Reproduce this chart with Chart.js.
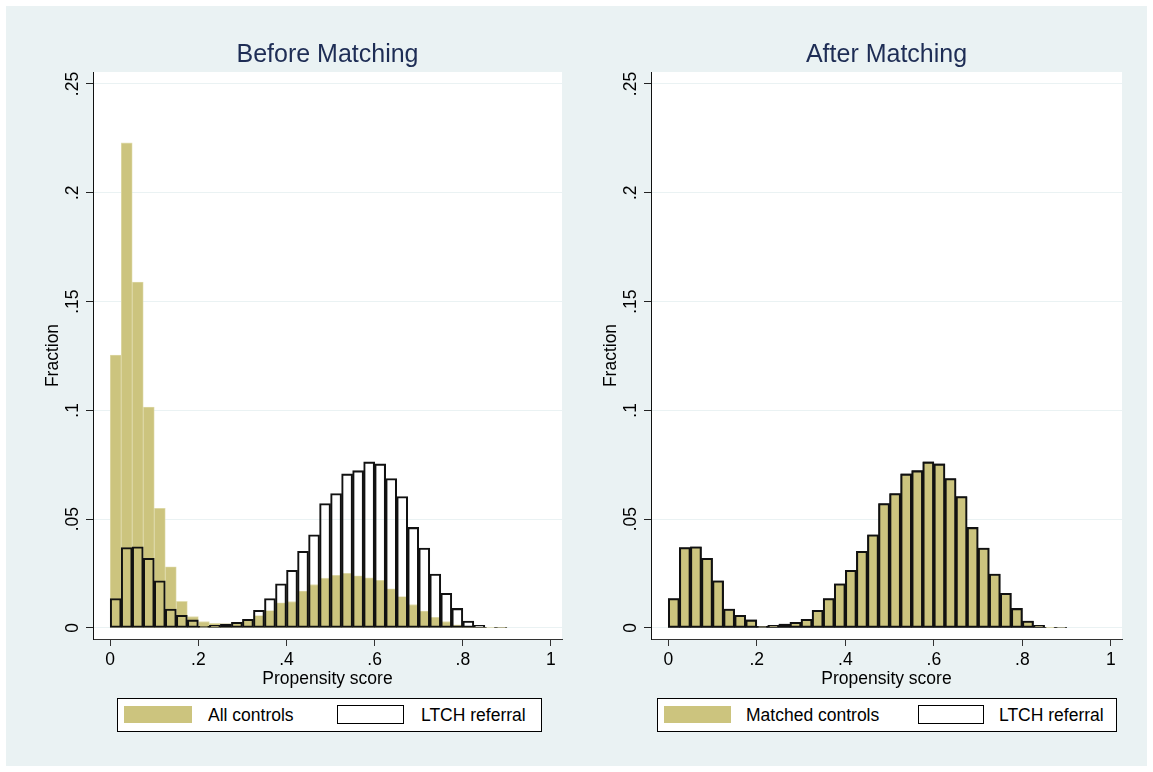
<!DOCTYPE html>
<html>
<head>
<meta charset="utf-8">
<script src="https://cdn.jsdelivr.net/npm/chart.js@4.4.1/dist/chart.umd.min.js"></script>
<style>
  html, body { margin: 0; padding: 0; background: #fff; }
  body { width: 1153px; height: 772px; position: relative; overflow: hidden; font-family: "Liberation Sans", Arial, sans-serif; }
  #bg { position: absolute; left: 6px; top: 6px; width: 1141px; height: 760px; background: #EAF2F3; }
  canvas { position: absolute; left: 0; top: 0; }
  .legend { position: absolute; top: 698px; height: 32px; border: 1px solid #000; background: #fff; }
  .legend .sw { position: absolute; top: 7px; height: 17px; }
  .legend .fill { background: #CCC47E; }
  .legend .line { border: 1px solid #000; background: #fff; top: 6px; height: 17px; }
  .legend .txt { position: absolute; top: 6px; font-size: 17.5px; line-height: 21px; color: #000; white-space: nowrap; }
</style>
</head>
<body>
<div id="bg"></div>
<canvas id="beforeChart" width="1153" height="772"></canvas>
<canvas id="afterChart" width="1153" height="772"></canvas>

<div class="legend" style="left:117px; width:423px;">
  <div class="sw fill" style="left:6px; width:68px;"></div>
  <div class="txt" style="left:90px;">All controls</div>
  <div class="sw line" style="left:219px; width:65px;"></div>
  <div class="txt" style="left:303px;">LTCH referral</div>
</div>
<div class="legend" style="left:657px; width:458px;">
  <div class="sw fill" style="left:6px; width:67px;"></div>
  <div class="txt" style="left:88px;">Matched controls</div>
  <div class="sw line" style="left:260px; width:64px;"></div>
  <div class="txt" style="left:341px;">LTCH referral</div>
</div>

<script>
// histogram bins (start of each bin, width .025)
var binStart = [0, 0.025, 0.05, 0.075, 0.1, 0.125, 0.15, 0.175, 0.2, 0.225, 0.25, 0.275,
    0.3, 0.325, 0.35, 0.375, 0.4, 0.425, 0.45, 0.475, 0.5, 0.525, 0.55, 0.575,
    0.6, 0.625, 0.65, 0.675, 0.7, 0.725, 0.75, 0.775, 0.8, 0.825, 0.85, 0.875];
var binWidth = 0.025;

var allControls = [0.1254, 0.2229, 0.159, 0.1015, 0.055, 0.0281, 0.0122, 0.0052, 0.0029, 0.0021, 0.002, 0.0025,
    0.0035, 0.0057, 0.008, 0.0116, 0.0121, 0.017, 0.0199, 0.0229, 0.0242, 0.0251, 0.024, 0.0231,
    0.0219, 0.018, 0.0144, 0.0107, 0.0078, 0.0049, 0.0029, 0.0015, 0.0006, 0.0003, 0.0002, 0.0001];

var ltchReferral = [0.0135, 0.037, 0.0373, 0.032, 0.0217, 0.0087, 0.0058, 0.0037, 0.0008, 0.0012, 0.0018, 0.0026,
    0.004, 0.0081, 0.0135, 0.0203, 0.0265, 0.0352, 0.0428, 0.0572, 0.0618, 0.0708, 0.0723, 0.0763,
    0.0754, 0.0687, 0.0604, 0.0462, 0.0367, 0.0248, 0.0159, 0.009, 0.0032, 0.0012, 0.0003, 0.0002];

var matchedControls = [0.0135, 0.037, 0.0373, 0.032, 0.0217, 0.0087, 0.0058, 0.0037, 0.0008, 0.0012, 0.0018, 0.0026,
    0.004, 0.0081, 0.0135, 0.0203, 0.0265, 0.0352, 0.0428, 0.0572, 0.0618, 0.0708, 0.0723, 0.0763,
    0.0754, 0.0687, 0.0604, 0.0462, 0.0367, 0.0248, 0.0159, 0.009, 0.0032, 0.0012, 0.0003, 0.0002];

var xTicks = [0, 0.2, 0.4, 0.6, 0.8, 1];
var xTickLabels = ['0', '.2', '.4', '.6', '.8', '1'];
var yTicks = [0, 0.05, 0.1, 0.15, 0.2, 0.25];
var yTickLabels = ['0', '.05', '.1', '.15', '.2', '.25'];

var FONT = '"Liberation Sans", Arial, sans-serif';
var khaki = '#CCC47E';

function toPoints(vals) {
    return vals.map(function (v, i) { return { x: binStart[i] + binWidth / 2, y: v }; });
}

// white plot region, titles and rotated y labels, Stata style
var panelText = {
    id: 'panelText',
    beforeDraw: function (chart) {
        var a = chart.chartArea, ctx = chart.ctx;
        ctx.save();
        ctx.fillStyle = '#fff';
        ctx.fillRect(a.left, a.top, a.right - a.left, a.bottom - a.top);
        ctx.restore();
    },
    afterDraw: function (chart, args, opts) {
        var a = chart.chartArea, ctx = chart.ctx;
        var cx = (a.left + a.right) / 2;
        var ys = chart.scales.y;
        ctx.save();
        ctx.textAlign = 'center';
        ctx.textBaseline = 'middle';
        ctx.fillStyle = '#1E2D55';
        ctx.font = '25px ' + FONT;
        ctx.fillText(opts.title, cx, 55);

        ctx.fillStyle = '#000';
        ctx.font = '17.5px ' + FONT;
        ctx.fillText('Propensity score', cx, 679);

        yTicks.forEach(function (v, i) {
            ctx.save();
            ctx.translate(a.left - 20, ys.getPixelForValue(v));
            ctx.rotate(-Math.PI / 2);
            ctx.fillText(yTickLabels[i], 0, 0);
            ctx.restore();
        });
        ctx.translate(a.left - 40, (a.top + a.bottom) / 2);
        ctx.rotate(-Math.PI / 2);
        ctx.fillText('Fraction', 0, 0);
        ctx.restore();
    }
};

function makeOptions(title, padLeft, padRight) {
    return {
        responsive: false,
        animation: false,
        devicePixelRatio: 1,
        layout: { padding: { left: padLeft, right: padRight, top: 72, bottom: 93 } },
        plugins: {
            legend: { display: false },
            tooltip: { enabled: false },
            panelText: { title: title }
        },
        datasets: { bar: { grouped: false, barPercentage: 1, categoryPercentage: 1, borderSkipped: false } },
        scales: {
            x: {
                type: 'linear',
                min: -0.039,
                max: 1.025,
                offset: false,
                afterBuildTicks: function (scale) {
                    scale.ticks = xTicks.map(function (v) { return { value: v }; });
                },
                afterFit: function (scale) { scale.height = 40; },
                ticks: {
                    padding: 4,
                    color: '#000',
                    font: { family: FONT, size: 17.5 },
                    callback: function (v) { return xTickLabels[xTicks.indexOf(v)]; }
                },
                grid: { offset: false, drawOnChartArea: false, tickLength: 7, tickColor: '#333', tickWidth: 1 },
                border: { color: '#333', width: 1 }
            },
            y: {
                min: -0.00506,
                max: 0.2555,
                afterBuildTicks: function (scale) {
                    scale.ticks = yTicks.map(function (v) { return { value: v }; });
                },
                afterFit: function (scale) { scale.width = 8; },
                ticks: { display: false },
                grid: { color: '#EAF2F3', lineWidth: 1, tickLength: 7, tickColor: '#222' },
                border: { color: '#111', width: 1 }
            }
        }
    };
}

new Chart(document.getElementById('beforeChart').getContext('2d'), {
    type: 'bar',
    data: {
        datasets: [{
            label: 'LTCH referral',
            data: toPoints(ltchReferral),
            backgroundColor: 'rgba(0,0,0,0)',
            borderColor: '#111',
            borderWidth: 1.4,
            order: 0
        }, {
            label: 'All controls',
            data: toPoints(allControls),
            backgroundColor: khaki,
            borderColor: '#E2DEB2',
            borderWidth: 0.8,
            order: 1
        }]
    },
    options: makeOptions('Before Matching', 85, 591),
    plugins: [panelText]
});

new Chart(document.getElementById('afterChart').getContext('2d'), {
    type: 'bar',
    data: {
        datasets: [{
            label: 'LTCH referral',
            data: toPoints(ltchReferral),
            backgroundColor: 'rgba(0,0,0,0)',
            borderColor: '#111',
            borderWidth: 1.4,
            order: 0
        }, {
            label: 'Matched controls',
            data: toPoints(matchedControls),
            backgroundColor: khaki,
            borderColor: '#222',
            borderWidth: 1.4,
            order: 1
        }]
    },
    options: makeOptions('After Matching', 643, 31),
    plugins: [panelText]
});
</script>
</body>
</html>
